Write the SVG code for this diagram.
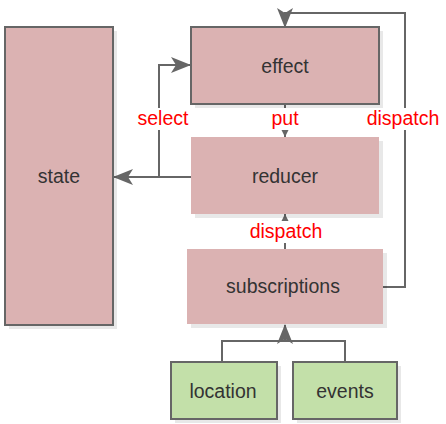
<svg xmlns="http://www.w3.org/2000/svg" width="446" height="424" viewBox="0 0 446 424">
<style>
.sh{fill:#000;opacity:0.09}
.red{fill:#dbb2b2}
.grn{fill:#c3e0a9}
.st{stroke:#666;stroke-width:2}
.lbl{font-family:"Liberation Sans",Arial,sans-serif;font-size:19.5px;fill:#333;text-anchor:middle}
.el{font-family:"Liberation Sans",Arial,sans-serif;font-size:19.5px;fill:#ff0000;text-anchor:middle}
.bg{fill:#fff}
.ln{fill:none;stroke:#666;stroke-width:2}
</style>
<defs>
<marker id="big" viewBox="0 0 20 16" refX="19" refY="8" markerWidth="20" markerHeight="16" markerUnits="userSpaceOnUse" orient="auto">
<path d="M0,0 L20,8 L0,16 L5,8 Z" fill="#666"/>
</marker>
<marker id="small" viewBox="0 0 8 8" refX="8" refY="4" markerWidth="8" markerHeight="8" markerUnits="userSpaceOnUse" orient="auto">
<path d="M0,0 L8,4 L0,8 Z" fill="#666"/>
</marker>
</defs>
<g id="connectors">
<path class="ln" d="M191,177 L114,177" marker-end="url(#big)"/>
<path class="ln" d="M159,177 L159,65 L190,65" marker-end="url(#big)"/>
<path class="ln" d="M285,104 L285,137" marker-end="url(#small)"/>
<path class="ln" d="M285,249 L285,214" marker-end="url(#small)"/>
<path class="ln" d="M383,287 L405,287 L405,13 L285,13 L285,27" marker-end="url(#big)"/>
<path class="ln" d="M222,362 L222,341 L345,341 L345,362"/>
<path class="ln" d="M285,341 L285,325" marker-end="url(#big)"/>
<rect class="bg" x="136" y="108" width="54" height="22"/>
<text class="el" x="163" y="125">select</text>
<rect class="bg" x="270" y="108" width="30" height="22"/>
<text class="el" x="285" y="125">put</text>
<rect class="bg" x="366" y="108" width="75" height="22"/>
<text class="el" x="403" y="125">dispatch</text>
<rect class="bg" x="249" y="221" width="75" height="22"/>
<text class="el" x="286" y="238">dispatch</text>
</g>
<g id="state">
<rect class="sh" x="9" y="31" width="108" height="298"/>
<rect class="red st" x="5" y="27" width="108" height="298"/>
<text class="lbl" x="59" y="183">state</text>
</g>
<g id="effect">
<rect class="sh" x="195" y="31" width="188" height="77"/>
<rect class="red st" x="191" y="27" width="188" height="77"/>
<text class="lbl" x="285" y="73">effect</text>
</g>
<g id="reducer">
<rect class="sh" x="195" y="141" width="188" height="77"/>
<rect class="red" x="191" y="137" width="188" height="77"/>
<text class="lbl" x="285" y="183">reducer</text>
</g>
<g id="subscriptions">
<rect class="sh" x="191" y="253" width="196" height="75"/>
<rect class="red" x="187" y="249" width="196" height="75"/>
<text class="lbl" x="283" y="293">subscriptions</text>
</g>
<g id="location">
<rect class="sh" x="175" y="366" width="106" height="57"/>
<rect class="grn st" x="171" y="362" width="106" height="57"/>
<text class="lbl" x="223" y="398">location</text>
</g>
<g id="events">
<rect class="sh" x="297" y="366" width="104" height="57"/>
<rect class="grn st" x="293" y="362" width="104" height="57"/>
<text class="lbl" x="345" y="398">events</text>
</g>
</svg>
